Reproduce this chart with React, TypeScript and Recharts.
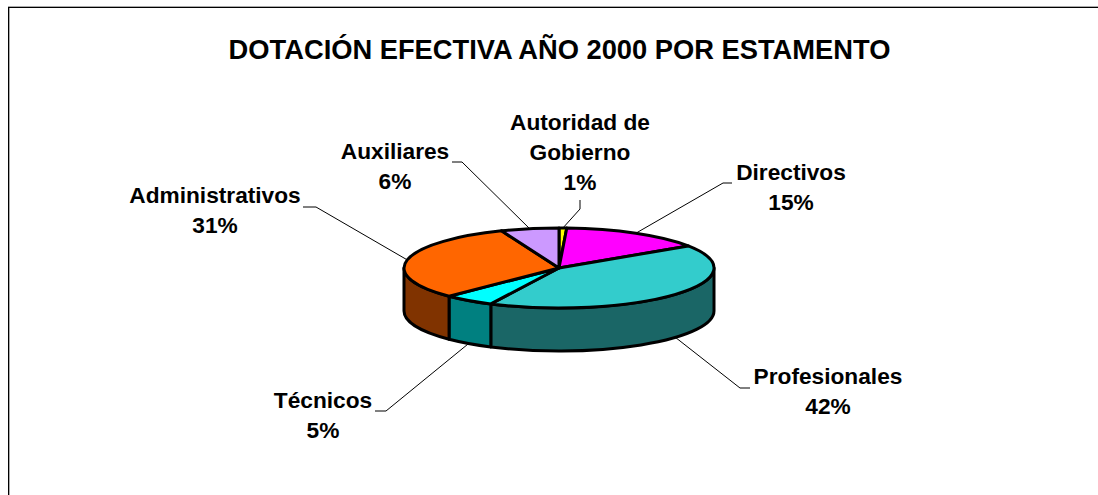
import { PieChart, Pie } from "recharts";

const categories = ["Autoridad de Gobierno", "Directivos", "Profesionales", "Técnicos", "Administrativos", "Auxiliares"];
const shares = [0.8, 14.9, 41.55, 5.3, 31.4, 6.05];
const topColors = ["#FFFF00", "#FF00FF", "#33CCCC", "#00FFFF", "#FF6600", "#CC99FF"];
const sideColors = ["#808000", "#800080", "#1A6666", "#008080", "#803300", "#664C80"];

// label text lines and where each leader line bends, keyed by slice
const labelLines = [["Autoridad de", "Gobierno"], ["Directivos"], ["Profesionales"], ["Técnicos"], ["Administrativos"], ["Auxiliares"]];
const labelPlace = [
  { x: 580, y: 122, anchor: [[580, 200], [580, 209]] },
  { x: 791, y: 172, anchor: [[732, 183], [723, 183]] },
  { x: 828, y: 376, anchor: [[750, 388], [740, 388]] },
  { x: 323, y: 400, anchor: [[375, 411], [386, 411]] },
  { x: 215, y: 195, anchor: [[303, 207], [316, 207]] },
  { x: 395, y: 151, anchor: [[452, 162], [462, 162]] },
];

const TILT = 40 / 155;
const DEPTH = 43;

const pieData = categories.map((name, i) => ({ name, value: shares[i], fill: topColors[i], side: sideColors[i], index: i }));

const rimPoint = (cx: number, cy: number, r: number, deg: number) => {
  const a = (deg * Math.PI) / 180;
  return [cx + r * Math.cos(a), cy - r * TILT * Math.sin(a)];
};

function Slice3D(props: any) {
  const { cx, cy, outerRadius: r, startAngle, endAngle, fill, side } = props;
  const ry = r * TILT;
  const [sx, sy] = rimPoint(cx, cy, r, startAngle);
  const [ex, ey] = rimPoint(cx, cy, r, endAngle);
  const large = startAngle - endAngle > 180 ? 1 : 0;
  const top = `M${cx},${cy} L${sx},${sy} A${r},${ry} 0 ${large} 1 ${ex},${ey} Z`;

  // the wall only shows on the front half, angles 0..-180 in recharts terms
  let wall = null;
  if (endAngle < 0 && startAngle > -180) {
    const [ax, ay] = rimPoint(cx, cy, r, Math.min(startAngle, 0));
    const [bx, by] = rimPoint(cx, cy, r, Math.max(endAngle, -180));
    wall = (
      <path
        d={`M${ax},${ay} A${r},${ry} 0 0 1 ${bx},${by} L${bx},${by + DEPTH} A${r},${ry} 0 0 0 ${ax},${ay + DEPTH} Z`}
        fill={side}
        stroke="#000"
        strokeWidth={3}
        strokeLinejoin="round"
      />
    );
  }
  return (
    <g>
      {wall}
      <path d={top} fill={fill} stroke="#000" strokeWidth={3} strokeLinejoin="round" />
    </g>
  );
}

function SliceLabel(props: any) {
  const { cx, cy, outerRadius: r, midAngle, percent, index } = props;
  const place = labelPlace[index];
  const [mx, my0] = rimPoint(cx, cy, r, midAngle);
  const my = Math.sin((midAngle * Math.PI) / 180) < 0 ? my0 + DEPTH : my0;
  const pts = [...place.anchor, [mx, my]].map((p) => p.join(",")).join(" ");
  const lines = [...labelLines[index], `${Math.round(percent * 100)}%`];
  return (
    <g>
      <polyline points={pts} fill="none" stroke="#000" strokeWidth={1} />
      <text x={place.x} y={place.y} textAnchor="middle" fontFamily="Liberation Sans" fontWeight="bold" fontSize={22.7} fill="#000">
        {lines.map((t, i) => (
          <tspan key={t} x={place.x} dy={i === 0 ? 8 : 30}>
            {t}
          </tspan>
        ))}
      </text>
    </g>
  );
}

export default function App() {
  return (
    <div style={{ position: "absolute", left: 0, top: 0, width: 1098, height: 495, background: "#fff", overflow: "hidden" }}>
      {/* frame: black line with a grey edge, open on the right and bottom */}
      <div style={{ position: "absolute", left: 8, top: 6, width: 1090, height: 1, background: "#aaa" }} />
      <div style={{ position: "absolute", left: 8, top: 7, width: 1090, height: 1, background: "#000" }} />
      <div style={{ position: "absolute", left: 8, top: 7, width: 1, height: 488, background: "#000" }} />
      <div style={{ position: "absolute", left: 9, top: 8, width: 1, height: 487, background: "#aaa" }} />
      <div style={{ position: "absolute", left: 0, top: 0 }}>
        <PieChart width={1098} height={495} margin={{ top: 0, right: 0, bottom: 0, left: 0 }}>
          <text x={559.5} y={59} textAnchor="middle" fontFamily="Liberation Sans" fontWeight="bold" fontSize={27.3} fill="#000">
            DOTACIÓN EFECTIVA AÑO 2000 POR ESTAMENTO
          </text>
          <Pie
            data={pieData}
            dataKey="value"
            nameKey="name"
            cx={559}
            cy={268}
            outerRadius={155}
            startAngle={90}
            endAngle={-270}
            stroke="#000"
            shape={Slice3D}
            label={SliceLabel}
            labelLine={false}
            isAnimationActive={false}
          />
        </PieChart>
      </div>
    </div>
  );
}
